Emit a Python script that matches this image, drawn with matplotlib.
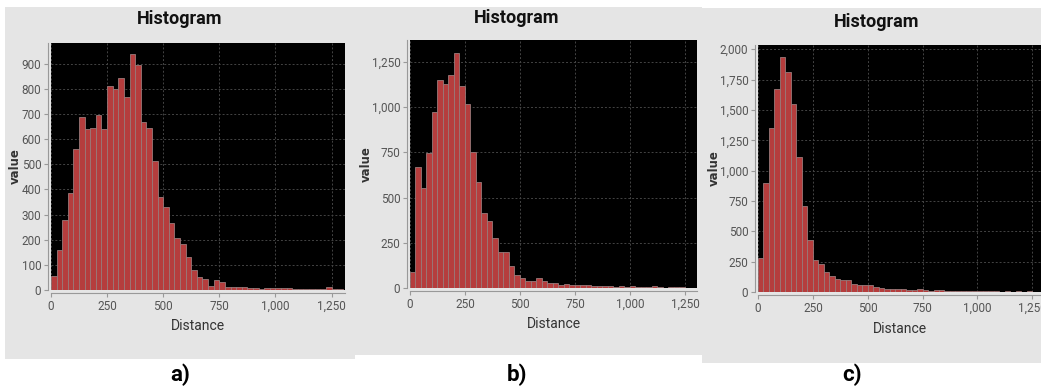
import matplotlib
matplotlib.use('Agg')
import matplotlib.pyplot as plt
from matplotlib.patches import Rectangle
from matplotlib.ticker import FuncFormatter, MultipleLocator
import numpy as np

# histogram counts, bins of width 25 starting at 0
bin_width = 25
counts_a = [57, 160, 277, 388, 561, 689, 639, 644, 695, 639,
            812, 800, 844, 767, 939, 897, 667, 644, 512, 371,
            331, 267, 208, 185, 132, 81, 51, 45, 17, 40,
            32, 11, 13, 13, 12, 8, 8, 5, 8, 8,
            8, 8, 8, 5, 5, 5, 5, 5, 3, 10, 2, 2]
counts_b = [87, 672, 554, 746, 976, 1152, 1131, 1181, 1302, 1119,
            1019, 752, 589, 413, 370, 274, 198, 198, 124, 72,
            54, 41, 41, 56, 41, 28, 28, 15, 20, 15,
            15, 15, 15, 9, 9, 9, 9, 5, 9, 5,
            9, 5, 5, 5, 9, 5, 2, 5, 5, 5, 2, 2]
counts_c = [284, 895, 1353, 1672, 1934, 1813, 1551, 1110, 705, 427,
            267, 229, 165, 132, 105, 96, 96, 63, 55, 55,
            55, 41, 33, 25, 25, 25, 25, 16, 16, 25,
            16, 8, 16, 16, 8, 8, 6, 6, 6, 6,
            6, 6, 6, 6, 3, 8, 3, 8, 3, 8, 2, 2, 2]

W, H = 1041, 391
# counts, y step, ylim top, xlim right,
# axes box (l, r, top, bottom px), background box (l, r, top, bottom px),
# title xy, ylabel x, xlabel y, caption, caption x
panels = [
    (counts_a, 100, 983, 1310, (51, 345, 43, 290), (5, 355, 7, 359),
     (180, 19), 15, 326, 'a)', 180),
    (counts_b, 250, 1372, 1305, (410, 697, 40, 288), (355, 702, 7, 355),
     (517, 18), 366, 324, 'b)', 517),
    (counts_c, 250, 2035, 1290, (758, 1041, 45, 292), (702, 1041, 8, 363),
     (877, 22), 714, 329, 'c)', 852),
]

plt.rcParams['font.family'] = ['Liberation Sans Narrow', 'Roboto', 'DejaVu Sans']
fig = plt.figure(figsize=(W / 100, H / 100), dpi=100)
fig.patch.set_facecolor('white')

comma = FuncFormatter(lambda v, p: f'{int(round(v)):,}')

for counts, ystep, ytop, xright, box, bg, txy, ylx, xly, cap, capx in panels:
    bl, br, bt, bb = bg
    fig.patches.append(Rectangle((bl / W, 1 - bb / H), (br - bl) / W, (bb - bt) / H,
                                 transform=fig.transFigure, facecolor='#e5e5e5',
                                 edgecolor='none', zorder=-5))
    l, r, t, b = box
    ax = fig.add_axes([l / W, 1 - b / H, (r - l) / W, (b - t) / H])
    ax.set_facecolor('black')
    edges = np.arange(len(counts)) * bin_width
    ax.bar(edges, counts, width=bin_width, align='edge', color='#b53d3d',
           edgecolor='#9a7a7a', linewidth=0.6, zorder=3)
    ax.set_xlim(0, xright)
    ax.set_ylim(0, ytop)
    ax.xaxis.set_major_locator(MultipleLocator(250))
    ax.yaxis.set_major_locator(MultipleLocator(ystep))
    ax.xaxis.set_major_formatter(comma)
    ax.yaxis.set_major_formatter(comma)
    ax.grid(True, color='#444444', linestyle=(0, (2, 2)), linewidth=0.7, zorder=1)
    for s in ['top', 'right']:
        ax.spines[s].set_visible(False)
    for s in ['left', 'bottom']:
        ax.spines[s].set_position(('outward', 2))
        ax.spines[s].set_color('#999999')
    ax.tick_params(colors='#999999', labelcolor='#555555', labelsize=8.5,
                   length=3, width=0.8, direction='out', pad=2)
    fig.text(ylx / W, 1 - (t + b) / 2 / H, 'value', rotation=90, ha='center', va='center',
             fontsize=8.5, color='#333333', fontweight='bold', family='DejaVu Sans')
    fig.text((l + min(r, 1041)) / 2 / W + 0.0, 1 - xly / H, 'Distance', ha='center',
             va='center', fontsize=10, color='#333333')
    fig.text(txy[0] / W, 1 - txy[1] / H, 'Histogram', ha='center', va='center',
             fontsize=13, fontweight='bold', color='#111111')
    fig.text(capx / W, 1 - 375 / H, cap, ha='center', va='center', fontsize=16,
             fontweight='bold', color='black')

fig.savefig('out.png', dpi=100, facecolor='white')
